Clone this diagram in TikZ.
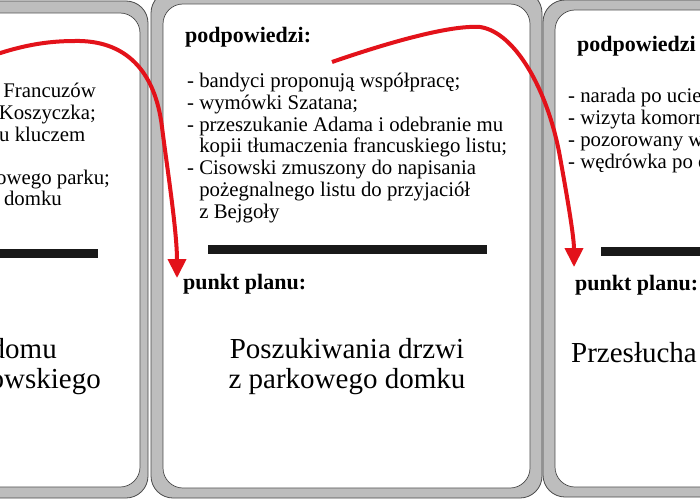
\documentclass[tikz,border=0pt]{standalone}
\usepackage{fontspec}
\setmainfont{Liberation Serif}
\usetikzlibrary{arrows.meta}

\definecolor{cardgray}{HTML}{BDBDBD}
\definecolor{cardline}{HTML}{4A4A4A}
\definecolor{arrowred}{HTML}{E3121A}

\begin{document}
\begin{tikzpicture}[x=1pt,y=-1pt,
	outer/.style={fill=cardgray,draw=cardline,line width=0.8pt,rounded corners=22pt},
	inner/.style={fill=white,draw=cardline,line width=0.7pt,rounded corners=20pt},
	bar/.style={fill=black!90},
	head/.style={anchor=base west,inner sep=0pt,font=\fontsize{22}{24}\selectfont\bfseries},
	clue/.style={anchor=base west,inner sep=0pt,align=left,font=\fontsize{20.8}{21.7}\selectfont},
	cut/.style={anchor=base east,inner sep=0pt,font=\fontsize{20.8}{21.7}\selectfont},
	title/.style={anchor=base,inner sep=0pt,align=center,font=\fontsize{29}{30}\selectfont},
	plan/.style={draw=arrowred,line width=4pt,-{Triangle[length=19pt,width=18pt]}}]

	\fill[white] (0,0) rectangle (700,500);
	\useasboundingbox (0,0) rectangle (700,500);

	% cards
	\draw[outer] (-245,1) rectangle (148,498);
	\draw[inner] (-233,13) rectangle (140,487);
	\draw[outer] (151,-9) rectangle (542,498);
	\draw[inner] (163,4) rectangle (530,488);
	\draw[outer] (543,0) rectangle (940,497);
	\draw[inner] (555,10) rectangle (930,487);

	% left card
	\node[cut] (a1) at (96,98)    {a Francuzów};
	\node[cut] (a2) at (96,119.5) {Koszyczka;};
	\node[cut,anchor=base west] (a3) at (-1,141) {u kluczem};
	\node[cut,anchor=base west] (a4) at (-4,184) {owego parku;};
	\node[cut] (a5) at (62,205)   {domku};
	\fill[bar] (-190,249) rectangle (98,258);
	\node[title,anchor=base east] (a6) at (57,358)  {domu};
	\node[title,anchor=base east] (a7) at (101,388) {owskiego};

	% middle card
	\node[head] (b1) at (185,43) {podpowiedzi:};
	\node[clue] (b2) at (187,218) {- bandyci proponują współpracę;\\
		- wymówki Szatana;\\
		- przeszukanie Adama i odebranie mu\\
		\hphantom{- }kopii tłumaczenia francuskiego listu;\\
		- Cisowski zmuszony do napisania\\
		\hphantom{- }pożegnalnego listu do przyjaciół\\
		\hphantom{- }z Bejgoły};
	\fill[bar] (208,245) rectangle (487,254);
	\node[head] (b3) at (183,289) {punkt planu:};
	\node[title] (b4) at (347,388) {Poszukiwania drzwi\\z parkowego domku};

	% right card
	\node[head] (c1) at (577,52) {podpowiedzi};
	\node[clue] (c2) at (568,168) {- narada po ucie\\
		- wizyta komorn\\
		- pozorowany wy\\
		- wędrówka po o};
	\fill[bar] (601,247) rectangle (710,256);
	\node[head] (c3) at (575,290) {punkt planu:};
	\node[title,anchor=base west] (c4) at (571,362) {Przesłucha};

	% arrows
	\coordinate (s1) at (-30,64);
	\coordinate (t1) at (177,278);
	\coordinate (s2) at (332,62);
	\coordinate (t2) at (574,267);
	\draw[plan] (s1) .. controls (10,48) and (40,41) .. (75,41)
		.. controls (125,40) and (155,70) .. (162,127)
		.. controls (166,160) and (177,230) .. (t1);
	\draw[plan] (s2) .. controls (390,42) and (450,25) .. (480,27)
		.. controls (515,32) and (548,90) .. (560,157)
		.. controls (565,185) and (574,235) .. (t2);
\end{tikzpicture}
\end{document}
